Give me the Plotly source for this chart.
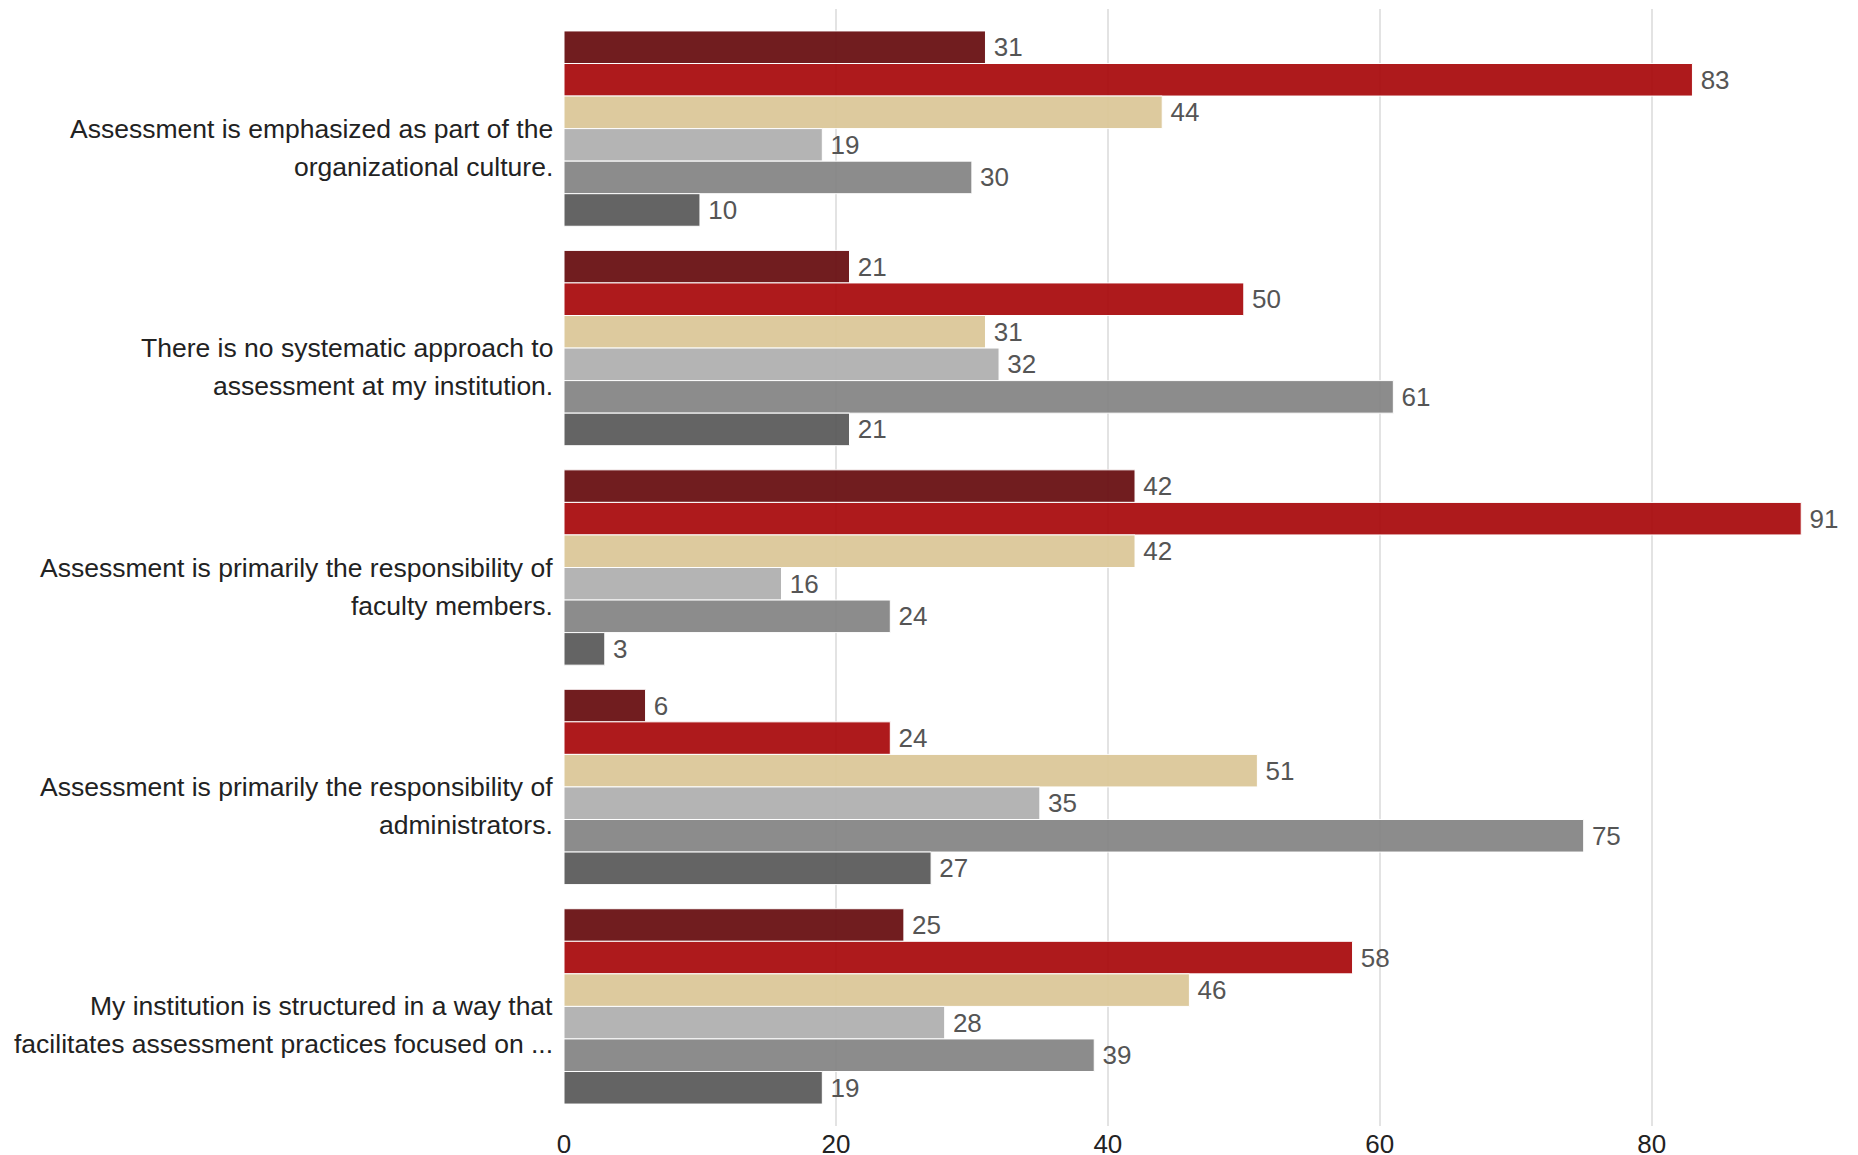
import plotly.graph_objects as go

# Survey statements (one group of bars per statement)
statements = [
    "Assessment is emphasized as part of the<br>organizational culture.",
    "There is no systematic approach to<br>assessment at my institution.",
    "Assessment is primarily the responsibility of<br>faculty members.",
    "Assessment is primarily the responsibility of<br>administrators.",
    "My institution is structured in a way that<br>facilitates assessment practices focused on ...",
]

# Response categories, top to bottom within each group
series_names = ["Strongly agree", "Agree", "Neutral", "Disagree", "Strongly disagree", "Not sure"]
series_colors = ["#6a1114", "#aa0e10", "#dcc899", "#b1b1b1", "#868686", "#5c5c5c"]

strongly_agree = [31, 21, 42, 6, 25]
agree = [83, 50, 91, 24, 58]
neutral = [44, 31, 42, 51, 46]
disagree = [19, 32, 16, 35, 28]
strongly_disagree = [30, 61, 24, 75, 39]
not_sure = [10, 21, 3, 27, 19]

series_values = [strongly_agree, agree, neutral, disagree, strongly_disagree, not_sure]

x_ticks = [0, 20, 40, 60, 80]

FONT = "Liberation Sans, Arial, sans-serif"

fig = go.Figure()
for name, color, vals in zip(series_names, series_colors, series_values):
    fig.add_trace(go.Bar(
        y=statements,
        x=vals,
        name=name,
        orientation="h",
        marker=dict(color=color, opacity=0.95, line=dict(color="white", width=1)),
        texttemplate="\u2009%{x}",
        textposition="outside",
        textfont=dict(family=FONT, size=26, color="#555555"),
        cliponaxis=False,
        showlegend=False,
    ))

# Category labels: each line placed separately for a looser line height
annotations = []
for cat in statements:
    for i, line in enumerate(cat.split("<br>")):
        annotations.append(dict(
            x=0, xref="paper", xanchor="right", xshift=-9,
            y=cat, yref="y", yanchor="middle", yshift=-38 * i,
            text=line, showarrow=False,
            font=dict(family=FONT, size=26.5, color="#222222"),
        ))

fig.update_layout(
    width=1858,
    height=1155,
    barmode="group",
    bargap=0.11,
    bargroupgap=0,
    plot_bgcolor="white",
    paper_bgcolor="white",
    margin=dict(l=564, r=16, t=9, b=29),
    font=dict(family=FONT, size=25, color="#222222"),
    annotations=annotations,
    xaxis=dict(
        range=[0, 94],
        tickvals=x_ticks,
        showgrid=True,
        gridcolor="#e3e3e3",
        gridwidth=2,
        zeroline=False,
        showline=False,
        ticks="",
        automargin=False,
        tickfont=dict(size=26, color="#222222"),
    ),
    yaxis=dict(
        type="category",
        range=[4.545, -0.545],
        showgrid=False,
        zeroline=False,
        showline=False,
        ticks="",
        showticklabels=False,
        automargin=False,
    ),
)

fig.write_html("out.html")
